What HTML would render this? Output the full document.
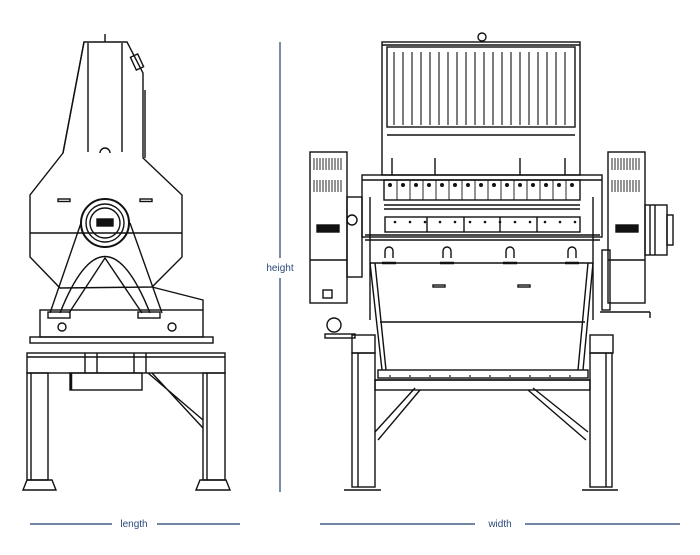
<!DOCTYPE html>
<html><head><meta charset="utf-8"><style>
html,body{margin:0;padding:0;background:#fff;}
svg{display:block;}
text{font-family:"Liberation Sans",sans-serif;}
</style></head><body>
<svg width="700" height="555" viewBox="0 0 700 555" xmlns="http://www.w3.org/2000/svg">
<g fill="none" stroke="#111" stroke-width="1.4">
<!-- LEFT MACHINE -->
<line x1="105" y1="34" x2="105" y2="42"/>
<polygon points="84,42 127,42 143,73 143,158 182,195 182,257 152,287 60,288 30,257 30,195 63,153"/>
<line x1="84" y1="42" x2="63" y2="153"/>
<line x1="88" y1="43" x2="88" y2="152"/>
<line x1="122" y1="43" x2="122" y2="152"/>
<rect x="133" y="55" width="8" height="14" transform="rotate(-25 137 62)"/>
<line x1="145" y1="90" x2="145" y2="158"/>
<path d="M100,153 a5,5 0 0 1 10,0"/>
<line x1="30" y1="233" x2="182" y2="233"/>
<rect x="58" y="199" width="12" height="2.5"/>
<rect x="140" y="199" width="12" height="2.5"/>
<circle cx="105" cy="223" r="24" stroke-width="2"/>
<circle cx="105" cy="223" r="19"/>
<circle cx="105" cy="223" r="15"/>
<rect x="97" y="219" width="16" height="7" fill="#111"/>
<path d="M81,223 L50,313 M130,223 L162,313 M60,313 Q105,200 150,313"/>
<path d="M69,313 L105,258 L142,313" />
<polyline points="152,287 203,300 203,310"/>
<rect x="40" y="310" width="163" height="27"/>
<rect x="48" y="312" width="22" height="6"/><rect x="138" y="312" width="22" height="6"/>
<circle cx="62" cy="327" r="4"/><circle cx="172" cy="327" r="4"/>
<rect x="30" y="337" width="183" height="6"/>
<rect x="27" y="353" width="198" height="20"/>
<line x1="27" y1="357" x2="225" y2="357"/>
<line x1="85" y1="353" x2="85" y2="373"/><line x1="97" y1="353" x2="97" y2="373"/>
<line x1="134" y1="353" x2="134" y2="373"/><line x1="146" y1="353" x2="146" y2="373"/>
<rect x="27" y="373" width="21" height="107"/><line x1="31" y1="373" x2="31" y2="480"/>
<rect x="203" y="373" width="22" height="107"/><line x1="207" y1="373" x2="207" y2="480"/>
<path d="M23,490 L27,480 L52,480 L56,490 Z"/><path d="M196,490 L200,480 L226,480 L230,490 Z"/>
<rect x="70" y="373" width="72" height="17"/><line x1="71" y1="373" x2="71" y2="390" stroke-width="2.5"/>
<path d="M148,373 L203,420 M152,373 L203,428"/>

<!-- RIGHT MACHINE -->
<circle cx="482" cy="37" r="4"/>
<rect x="382" y="42" width="198" height="133"/>
<line x1="382" y1="45" x2="580" y2="45"/>
<rect x="387" y="47" width="188" height="80"/>
<line x1="387" y1="135" x2="575" y2="135"/>
<g stroke-width="1.1">
<line x1="394" y1="52" x2="394" y2="125"/><line x1="403" y1="52" x2="403" y2="125"/><line x1="412" y1="52" x2="412" y2="125"/><line x1="421" y1="52" x2="421" y2="125"/><line x1="430" y1="52" x2="430" y2="125"/><line x1="439" y1="52" x2="439" y2="125"/><line x1="448" y1="52" x2="448" y2="125"/><line x1="457" y1="52" x2="457" y2="125"/><line x1="466" y1="52" x2="466" y2="125"/><line x1="475" y1="52" x2="475" y2="125"/><line x1="484" y1="52" x2="484" y2="125"/><line x1="493" y1="52" x2="493" y2="125"/><line x1="502" y1="52" x2="502" y2="125"/><line x1="511" y1="52" x2="511" y2="125"/><line x1="520" y1="52" x2="520" y2="125"/><line x1="529" y1="52" x2="529" y2="125"/><line x1="538" y1="52" x2="538" y2="125"/><line x1="547" y1="52" x2="547" y2="125"/><line x1="556" y1="52" x2="556" y2="125"/><line x1="565" y1="52" x2="565" y2="125"/>
</g>
<path d="M392,158 v17 M435,158 v17 M520,158 v17 M565,158 v17"/>
<rect x="362" y="175" width="240" height="62"/>
<line x1="362" y1="180" x2="602" y2="180"/>
<rect x="384" y="180" width="196" height="20"/>
<g stroke-width="0.9">
<path d="M397,180 v20 M410,180 v20 M423,180 v20 M436,180 v20 M449,180 v20 M462,180 v20 M475,180 v20 M488,180 v20 M501,180 v20 M514,180 v20 M527,180 v20 M540,180 v20 M553,180 v20 M566,180 v20"/>
</g>
<g fill="#111" stroke="none">
<circle cx="390" cy="185" r="2"/><circle cx="403" cy="185" r="2"/><circle cx="416" cy="185" r="2"/><circle cx="429" cy="185" r="2"/><circle cx="442" cy="185" r="2"/><circle cx="455" cy="185" r="2"/><circle cx="468" cy="185" r="2"/><circle cx="481" cy="185" r="2"/><circle cx="494" cy="185" r="2"/><circle cx="507" cy="185" r="2"/><circle cx="520" cy="185" r="2"/><circle cx="533" cy="185" r="2"/><circle cx="546" cy="185" r="2"/><circle cx="559" cy="185" r="2"/><circle cx="572" cy="185" r="2"/>
<circle cx="395" cy="222" r="1.3"/><circle cx="410" cy="222" r="1.3"/><circle cx="425" cy="222" r="1.3"/><circle cx="440" cy="222" r="1.3"/><circle cx="455" cy="222" r="1.3"/><circle cx="470" cy="222" r="1.3"/><circle cx="485" cy="222" r="1.3"/><circle cx="500" cy="222" r="1.3"/><circle cx="515" cy="222" r="1.3"/><circle cx="530" cy="222" r="1.3"/><circle cx="545" cy="222" r="1.3"/><circle cx="560" cy="222" r="1.3"/><circle cx="575" cy="222" r="1.3"/>
</g>
<line x1="384" y1="205" x2="580" y2="205"/>
<line x1="384" y1="209" x2="580" y2="209"/>
<rect x="385" y="217" width="195" height="15"/>
<path d="M427,217 v15 M464,217 v15 M500,217 v15 M537,217 v15"/>
<line x1="365" y1="235" x2="600" y2="235"/><line x1="365" y1="240" x2="600" y2="240"/>
<line x1="370" y1="197" x2="370" y2="320"/><line x1="593" y1="197" x2="593" y2="320"/>
<line x1="370" y1="263" x2="593" y2="263"/>
<path d="M370,263 L382,370 M593,263 L583,370 M375,263 L386,370 M588,263 L578,370"/>
<path d="M385,258 v-7 a4,4 0 0 1 8,0 v7 M443,258 v-7 a4,4 0 0 1 8,0 v7 M506,258 v-7 a4,4 0 0 1 8,0 v7 M568,258 v-7 a4,4 0 0 1 8,0 v7"/>
<path d="M382,263 h14 M440,263 h14 M503,263 h14 M565,263 h14" stroke-width="2.5"/>
<rect x="433" y="285" width="12" height="2"/><rect x="518" y="285" width="12" height="2"/>
<line x1="380" y1="322" x2="585" y2="322"/>
<!-- motors -->
<rect x="310" y="152" width="37" height="151"/>
<rect x="608" y="152" width="37" height="151"/>
<line x1="310" y1="260" x2="347" y2="260"/><line x1="608" y1="260" x2="645" y2="260"/>
<g stroke-width="0.9">
<path d="M314,158 v12 M317,158 v12 M320,158 v12 M323,158 v12 M326,158 v12 M329,158 v12 M332,158 v12 M335,158 v12 M338,158 v12 M341,158 v12 M314,180 v12 M317,180 v12 M320,180 v12 M323,180 v12 M326,180 v12 M329,180 v12 M332,180 v12 M335,180 v12 M338,180 v12 M341,180 v12"/>
<path d="M612,158 v12 M615,158 v12 M618,158 v12 M621,158 v12 M624,158 v12 M627,158 v12 M630,158 v12 M633,158 v12 M636,158 v12 M639,158 v12 M612,180 v12 M615,180 v12 M618,180 v12 M621,180 v12 M624,180 v12 M627,180 v12 M630,180 v12 M633,180 v12 M636,180 v12 M639,180 v12"/>
</g>
<rect x="317" y="225" width="22" height="7" fill="#111"/><rect x="616" y="225" width="22" height="7" fill="#111"/>
<rect x="323" y="290" width="9" height="8"/>
<rect x="347" y="197" width="15" height="80"/>
<circle cx="352" cy="220" r="5"/>
<rect x="645" y="205" width="22" height="50"/><rect x="667" y="215" width="6" height="30"/>
<path d="M650,205 v50 M655,205 v50"/>
<rect x="602" y="250" width="8" height="60"/>
<line x1="600" y1="312" x2="650" y2="312"/><line x1="650" y1="312" x2="650" y2="318"/>
<circle cx="334" cy="325" r="7"/><rect x="325" y="334" width="30" height="4"/>
<!-- mounts and frame -->
<rect x="352" y="335" width="23" height="18"/><rect x="590" y="335" width="23" height="18"/>
<rect x="378" y="370" width="210" height="8"/>
<line x1="375" y1="380" x2="590" y2="380"/>
<rect x="375" y="380" width="215" height="10"/>
<rect x="352" y="353" width="23" height="134"/><line x1="358" y1="353" x2="358" y2="487"/>
<rect x="590" y="353" width="22" height="134"/><line x1="606" y1="353" x2="606" y2="487"/>
<line x1="344" y1="490" x2="381" y2="490"/><line x1="582" y1="490" x2="618" y2="490"/>
<path d="M415,388 L375,432 M420,390 L378,440"/>
<path d="M533,388 L588,432 M528,390 L586,440"/>
</g>
<g fill="#111" stroke="none">
<circle cx="390" cy="376" r="0.9"/><circle cx="410" cy="376" r="0.9"/><circle cx="430" cy="376" r="0.9"/><circle cx="450" cy="376" r="0.9"/><circle cx="470" cy="376" r="0.9"/><circle cx="490" cy="376" r="0.9"/><circle cx="510" cy="376" r="0.9"/><circle cx="530" cy="376" r="0.9"/><circle cx="550" cy="376" r="0.9"/><circle cx="570" cy="376" r="0.9"/>
</g>
<!-- dimensions -->
<g stroke="#1f3f6e" stroke-width="1.2">
<line x1="280" y1="42" x2="280" y2="258"/><line x1="280" y1="278" x2="280" y2="492"/>
<line x1="30" y1="524" x2="112" y2="524"/><line x1="157" y1="524" x2="240" y2="524"/>
<line x1="320" y1="524" x2="475" y2="524"/><line x1="525" y1="524" x2="680" y2="524"/>
</g>
<g fill="#2a4a7a" font-size="10" text-anchor="middle">
<text x="280" y="271">height</text>
<text x="134" y="527">length</text>
<text x="500" y="527">width</text>
</g>
</svg>
</body></html>
